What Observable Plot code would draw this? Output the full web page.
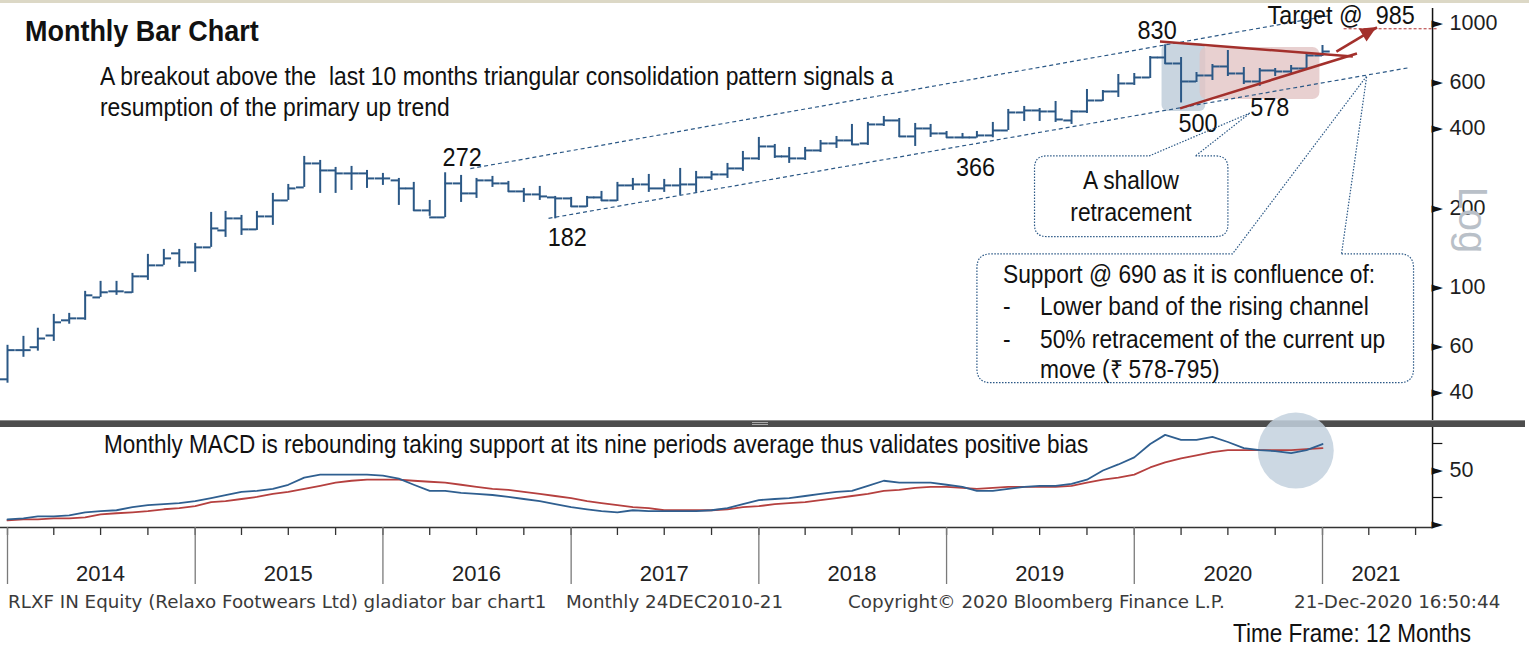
<!DOCTYPE html>
<html><head><meta charset="utf-8">
<script src="https://cdn.jsdelivr.net/npm/d3@7"></script>
<script src="https://cdn.jsdelivr.net/npm/@observablehq/plot@0.6"></script>
<style>
html,body{margin:0;padding:0;background:#fff;overflow:hidden;}
#wrap{position:relative;width:1529px;height:648px;overflow:hidden;background:#fff;}
.t{position:absolute;white-space:pre;line-height:1;}
.nar{font-family:"Liberation Sans",Arial,sans-serif;color:#111;}
.foot{font-family:"DejaVu Sans",Verdana,sans-serif;color:#3a3a3a;}
.abs{position:absolute;left:0;}
svg text{white-space:pre;}
</style></head><body><div id="wrap"></div>
<script>
// ---------------- DATA ----------------
// Monthly bars (Dec 2013 ... Dec 2020), each placed at its month-end
const barDates = d3.utcMonth.range(new Date(Date.UTC(2014,0,1)), new Date(Date.UTC(2021,1,1)));
const barOpen = [44.9,57.9,59.4,65.8,75.1,76.4,91.7,96.7,95.9,110.2,
 121.3,134.7,124.5,141.9,164.5,182.7,166.0,185.9,213.7,239.4,
 295.1,277.6,270.5,270.5,258.9,254.5,237.3,195.9,184.3,247.9,
 227.2,254.5,247.9,231.2,225.2,219.4,217.5,202.8,219.4,213.7,
 243.6,245.7,237.3,243.6,245.7,261.2,268.1,282.5,308.3,342.2,
 313.7,308.3,330.5,351.3,360.6,351.3,414.6,429.3,373.4,400.3,
 383.3,370.2,370.2,376.7,393.4,460.3,468.4,464.3,429.3,464.3,
 511.0,552.7,592.7,624.5,743.5,705.6,603.1,635.5,687.4,646.7,
 603.1,663.8,658.0,675.5,756.6];
const barHigh = [60.4,65.3,70.1,79.1,79.8,96.7,105.5,105.5,113.1,133.5,
 139.4,139.4,146.9,192.5,194.2,187.5,194.2,227.2,245.7,313.7,
 302.9,285.0,287.5,277.6,270.5,258.9,250.1,213.7,272,265.8,
 258.9,263.5,252.3,237.3,241.5,221.3,219.4,221.3,231.2,250.1,
 258.9,268.1,256.7,282.5,275.2,275.2,295.1,327.6,370.2,348.2,
 339.2,339.2,360.6,373.4,414.6,421.9,444.5,436.8,418.2,414.6,
 390.0,383.3,390.0,421.9,472.5,485.1,476.6,506.6,468.4,562.5,
 557.6,641.1,646.7,750.0,830,743.5,652.3,699.5,790.3,681.4,
 675.5,675.5,693.4,769.9,825.5];
const barLow = [43.4,54.4,57.4,62.5,72.6,75.1,91.7,93.4,95.0,106.4,
 121.3,119.2,114.1,141.9,154.8,157.5,164.5,171.9,213.7,239.4,
 227.2,227.2,233.2,237.3,243.6,204.6,194.2,186,184,210.0,
 217.5,239.4,229.2,210.0,213.7,182,201.1,201.1,211.8,211.8,
 233.2,229.2,229.2,223.3,229.2,254.5,258.9,275.2,302.9,308.3,
 295.1,302.9,324.8,336.3,345.2,345.2,407.4,370.2,342.2,370.2,
 367,366,368,369,393.4,425.6,425.6,421.9,414.6,456.3,
 506.6,524.6,582.5,619.1,699.5,500,597.9,608.4,630.0,587.5,
 578,630.0,646.7,663.8,750.0];
const barClose = [57.9,57.9,64.1,73.8,76.4,93.4,95.9,96.7,110.2,121.3,
 128.9,124.5,141.9,167.4,182.7,166.0,185.9,213.7,237.3,295.1,
 277.6,270.5,270.5,258.9,258.9,237.3,195.9,184.3,247.9,227.2,
 254.5,247.9,231.2,225.2,221.3,217.5,202.8,219.4,213.7,243.6,
 245.7,237.3,243.6,245.7,261.2,268.1,282.5,308.3,342.2,313.7,
 308.3,330.5,351.3,360.6,348.2,414.6,429.3,373.4,400.3,383.3,
 370.2,370.2,376.7,393.4,460.3,468.4,464.3,433.0,464.3,511.0,
 552.7,592.7,624.5,743.5,705.6,603.1,635.5,687.4,646.7,603.1,
 663.8,658.0,675.5,756.6,783.3];
// Monthly MACD and its 9-period signal
const macdLine = [4.7,5.7,7.5,7.5,8.5,11.3,12.3,13.2,16.0,17.9,
 18.9,19.8,21.7,24.5,27.3,30.2,31.1,33.0,36.8,43.4,
 46.2,46.2,46.2,46.2,45.3,42.4,36.8,31.1,31.1,29.2,
 28.3,27.3,25.5,23.6,21.7,18.9,16.0,14.1,12.3,11.3,
 13.2,12.3,12.3,12.3,12.3,13.2,15.1,18.9,22.6,23.6,
 24.5,26.4,28.3,30.2,31.1,35.8,40.5,38.7,38.7,38.7,
 36.8,34.9,31.1,31.1,33.0,34.9,35.8,35.8,37.7,41.5,
 50.0,55.6,62.2,74.5,83.0,78.3,78.3,81.1,76.4,70.7,
 68.8,67.9,66.0,68.8,74.5];
const signalLine = [3.8,4.7,4.7,5.7,5.7,6.6,9.4,10.4,11.3,12.3,
 14.1,15.1,17.0,20.7,21.7,23.6,25.5,28.3,30.2,33.0,
 35.8,38.7,40.5,41.5,41.5,41.5,40.5,39.6,38.7,36.8,
 34.9,33.0,32.1,30.2,28.3,26.4,24.5,21.7,19.8,17.9,
 16.0,15.1,13.2,13.2,13.2,13.2,14.1,16.0,17.0,18.9,
 19.8,20.7,22.6,24.5,26.4,28.3,31.1,32.1,33.9,34.9,
 34.9,33.9,33.0,33.9,34.9,34.9,34.9,34.9,35.8,38.7,
 41.5,43.4,46.2,52.8,57.5,61.3,64.1,67.0,68.8,68.8,
 68.8,68.8,68.8,69.8,70.7];
const priceTicks = [40,60,100,200,400,600,1000];
const macdLabelTicks = [0,50];
const macdMinorTicks = [25,75];
const yearLabels = ["2014","2015","2016","2017","2018","2019","2020","2021"];

// ---------------- helpers ----------------
const D = s => new Date(s + "T00:00:00Z");
const axisStart = D("2013-12-18"), axisEnd = D("2021-08-03");
const bars = barDates.map((date,i)=>({date, open:barOpen[i], high:barHigh[i], low:barLow[i], close:barClose[i]}));
const macd = barDates.map((date,i)=>({date, macd:macdLine[i], signal:signalLine[i]}));

// annotations (data coordinates)
const channelLines = [
  {x1:D("2016-06-19"), y1:282, x2:D("2021-01-16"), y2:1072},
  {x1:D("2016-11-18"), y1:182.7, x2:D("2021-06-20"), y2:681}
];
const triangleLines = [
  {x1:D("2020-02-20"), y1:855, x2:D("2021-03-01"), y2:750},
  {x1:D("2020-03-30"), y1:477, x2:D("2021-03-09"), y2:770}
];
const targetArrow = {x1:D("2021-01-28"), y1:783, x2:D("2021-04-17"), y2:966};
const targetLevel = {x1:D("2021-02-12"), x2:D("2021-08-12"), y:955};
const blueShade = [{x1:D("2020-02-24"), x2:D("2020-05-19"), y1:464, y2:840}];
const pinkShade = [{x1:D("2020-05-08"), x2:D("2020-12-27"), y1:515, y2:811}];
const pointLabels = [
  {x:barDates[28], y:barHigh[28], text:"272", dx:17, dy:-15},
  {x:barDates[35], y:barLow[35], text:"182", dx:12, dy:19},
  {x:barDates[61], y:barLow[61], text:"366", dx:13, dy:29},
  {x:barDates[74], y:barHigh[74], text:"830", dx:-8, dy:-14},
  {x:barDates[75], y:barLow[75], text:"500", dx:17, dy:21},
  {x:barDates[80], y:barLow[80], text:"578", dx:10, dy:21},
  {x:targetLevel.x1, y:targetLevel.y, text:"Target @  985", dx:-3, dy:-13}
];
const callouts = [
  {L:D("2019-06-22"), R:D("2020-07-02"), T:313.7, B:155.3, n1:D("2020-01-31"), n2:D("2020-04-30"), tx:D("2020-08-14"), ty:456, r:12},
  {L:D("2019-03-02"), R:D("2021-06-28"), T:133.5, B:43.4, n1:D("2020-07-11"), n2:D("2021-02-08"), tx:D("2021-03-29"), ty:630, r:14}
];
const macdHighlight = [{date:D("2020-11-10"), v:68.5}];

const BAR = "#2b5886";
const NARROW = "Liberation Sans, sans-serif";          // compressed horizontally after render
const AXISF = "'Liberation Sans',Arial,sans-serif";
const XS = {type:"utc", domain:[D("2014-01-01"), D("2021-01-01")], range:[7,1322], axis:null};

// ---------------- PRICE PANEL ----------------
const price = Plot.plot({
  width:1529, height:420, marginTop:8, marginBottom:0, marginLeft:0, marginRight:0,
  style:{background:"transparent", overflow:"visible"},
  x: XS,
  y: {type:"log", domain:[100,1000], range:[287,23], axis:null},
  marks:[
    Plot.rect(blueShade, {x1:"x1", x2:"x2", y1:"y1", y2:"y2", fill:"#c9d5e0", rx:6}),
    Plot.rect(pinkShade, {x1:"x1", x2:"x2", y1:"y1", y2:"y2", fill:"#e2c4c4", fillOpacity:0.8, rx:7}),
    Plot.link(channelLines, {x1:"x1", y1:"y1", x2:"x2", y2:"y2", stroke:BAR, strokeWidth:1.2, strokeDasharray:"4,3"}),
    Plot.ruleX(bars, {x:"date", y1:"low", y2:"high", stroke:BAR, strokeWidth:2}),
    Plot.ruleY(bars, {y:"open", x1:d=>d3.utcDay.offset(d.date,-15), x2:"date", stroke:BAR, strokeWidth:2}),
    Plot.ruleY(bars, {y:"close", x1:"date", x2:d=>d3.utcDay.offset(d.date,15), stroke:BAR, strokeWidth:2}),
    Plot.link(triangleLines, {x1:"x1", y1:"y1", x2:"x2", y2:"y2", stroke:"#a3302c", strokeWidth:2.6}),
    Plot.link([targetArrow], {x1:"x1", y1:"y1", x2:"x2", y2:"y2", stroke:"#a3302c", strokeWidth:2.6}),
    Plot.ruleY([targetLevel], {y:"y", x1:"x1", x2:"x2", stroke:"#b03030", strokeWidth:1, strokeDasharray:"3,2"}),
    ...pointLabels.map(d => Plot.text([d], {x:"x", y:"y", text:"text", dx:d.dx, dy:d.dy, fontSize:26, fontFamily:NARROW, fill:"#111"})),
    Plot.ruleX([axisEnd], {x:d=>d, stroke:"#111", strokeWidth:1.5}),
    Plot.text(priceTicks, {x:()=>axisEnd, y:d=>d, text:()=>"►", textAnchor:"start", dx:-1, fontSize:15, fontFamily:"DejaVu Sans", fill:"#111"}),
    Plot.text(priceTicks, {x:()=>axisEnd, y:d=>d, text:d=>String(d), textAnchor:"start", dx:17, fontSize:21.5, fontFamily:AXISF, fill:"#1e1e1e"})
  ]
});

// overlay: callouts and arrow head through the plot's own scales
(function(){
  const sx = price.scale("x"), sy = price.scale("y");
  const X = d3.scaleUtc(sx.domain, sx.range), Y = d3.scaleLog(sy.domain, sy.range);
  const svg = d3.select(price);
  for (const c of callouts) {
    const L=X(c.L), R=X(c.R), T=Y(c.T), B=Y(c.B), n1=X(c.n1), n2=X(c.n2), tx=X(c.tx), ty=Y(c.ty), r=c.r;
    const p = `M${n2},${T}L${R-r},${T}Q${R},${T} ${R},${T+r}L${R},${B-r}Q${R},${B} ${R-r},${B}L${L+r},${B}Q${L},${B} ${L},${B-r}L${L},${T+r}Q${L},${T} ${L+r},${T}L${n1},${T}L${tx},${ty}Z`;
    svg.append("path").attr("d", p).attr("fill","none").attr("stroke", BAR).attr("stroke-width",1.2).attr("stroke-dasharray","1.5,1.5");
  }
  const x1=X(targetArrow.x1), y1=Y(targetArrow.y1), x2=X(targetArrow.x2), y2=Y(targetArrow.y2);
  const a = Math.atan2(y2-y1, x2-x1), len=16, hw=7.5;
  const bx = x2 - len*Math.cos(a), by = y2 - len*Math.sin(a);
  const px = -Math.sin(a)*hw, py = Math.cos(a)*hw;
  svg.append("path").attr("d", `M${x2},${y2}L${bx+px},${by+py}L${bx-px},${by-py}Z`).attr("fill","#a3302c");
})();

// ---------------- MACD PANEL ----------------
const macdPlot = Plot.plot({
  width:1529, height:107, marginTop:7, marginBottom:0, marginLeft:0, marginRight:0,
  style:{background:"transparent", overflow:"visible"},
  x: XS,
  y: {domain:[0,50], range:[104,50], axis:null},
  marks:[
    Plot.dot(macdHighlight, {x:"date", y:"v", r:38, fill:"#c3d1de", fillOpacity:0.85}),
    Plot.line(macd, {x:"date", y:"signal", stroke:"#b5403f", strokeWidth:1.8}),
    Plot.line(macd, {x:"date", y:"macd", stroke:"#2f5f90", strokeWidth:1.8}),
    Plot.ruleX([axisEnd], {x:d=>d, stroke:"#111", strokeWidth:1.5}),
    Plot.ruleY(macdMinorTicks, {y:d=>d, x1:()=>axisEnd, x2:()=>d3.utcDay.offset(axisEnd,20), stroke:"#111", strokeWidth:1.2}),
    Plot.text(macdLabelTicks, {x:()=>axisEnd, y:d=>d, text:()=>"►", textAnchor:"start", dx:-1, fontSize:15, fontFamily:"DejaVu Sans", fill:"#111"}),
    Plot.text([50], {x:()=>axisEnd, y:d=>d, text:d=>String(d), textAnchor:"start", dx:17, fontSize:21.5, fontFamily:AXISF, fill:"#1e1e1e"})
  ]
});

// ---------------- TIME AXIS ----------------
const quarterTicks = d3.utcMonth.every(3).range(D("2014-01-01"), D("2021-08-01"));
const yearStarts = yearLabels.map(y => D(y + "-01-01"));
const yearMids = yearLabels.map(y => y === "2021" ? D("2021-04-15") : D(y + "-07-01"));
const axisPlot = Plot.plot({
  width:1529, height:64, marginTop:0, marginBottom:0, marginLeft:0, marginRight:0,
  style:{background:"transparent", overflow:"visible"},
  x: XS,
  y: {domain:[0,60], range:[2,62], axis:null},
  marks:[
    Plot.ruleY([0], {y:d=>d, x1:()=>axisStart, x2:()=>axisEnd, stroke:"#333", strokeWidth:1.6}),
    Plot.ruleX(quarterTicks, {x:d=>d, y1:0, y2:8, stroke:"#333", strokeWidth:1.3}),
    Plot.ruleX(yearStarts, {x:d=>d, y1:0, y2:57, stroke:"#7a7a7a", strokeWidth:1.3}),
    Plot.text(yearLabels, {x:(d,i)=>yearMids[i], y:()=>46, text:d=>d, fontSize:22, fontFamily:AXISF, fill:"#222"})
  ]
});

// ---------------- ASSEMBLE ----------------
const wrap = document.getElementById("wrap");
function div(style){ const e=document.createElement("div"); e.style.cssText=style; wrap.appendChild(e); return e; }
function text(txt, cls, left, baseline, fs, opt={}){
  const e=document.createElement("div"); e.className="t "+cls; e.textContent=txt;
  const sx = opt.sx || 1, mid = opt.mid;
  e.style.cssText += `left:${left}px;top:${(baseline-0.8465*fs).toFixed(1)}px;font-size:${fs}px;` +
    (opt.bold ? "font-weight:bold;" : "") +
    (mid ? `transform-origin:center;transform:translateX(-50%) scaleX(${sx});` : `transform-origin:left center;transform:scaleX(${sx});`);
  wrap.appendChild(e); return e;
}
div("position:absolute;left:0;top:0;width:1529px;height:3px;background:#dcd8c6;");
div("position:absolute;left:0;top:420px;width:1525px;height:7px;background:#4d4d4d;border-top:1px solid #8a8a8a;box-sizing:border-box;");
div("position:absolute;left:752px;top:422px;width:16px;height:3px;border-top:1px solid #aaa;border-bottom:1px solid #aaa;box-sizing:border-box;");
function place(svg, top){ svg.classList.add("abs"); svg.style.top = top+"px"; wrap.appendChild(svg); }
place(price, 0);
place(macdPlot, 420);
place(axisPlot, 525);
// compress the narrow-style labels horizontally (condensed look)
d3.select(price).selectAll("text").each(function(){
  const g = this.closest("[font-family]");
  if (g && g.getAttribute("font-family") === NARROW) {
    const w = this.getComputedTextLength();
    this.setAttribute("textLength", (w*0.9).toFixed(1));
    this.setAttribute("lengthAdjust", "spacingAndGlyphs");
  }
});

const N = 0.91;
text("Monthly Bar Chart","nar",25,41,29,{bold:true, sx:0.93});
text("A breakout above the  last 10 months triangular consolidation pattern signals a","nar",100,85,25,{sx:0.915});
text("resumption of the primary up trend","nar",100,116.5,25,{sx:0.915});
text("Monthly MACD is rebounding taking support at its nine periods average thus validates positive bias","nar",104,453.5,25,{sx:0.9});
text("A shallow","nar",1131,189.5,25,{sx:N, mid:true});
text("retracement","nar",1131,221.5,25,{sx:N, mid:true});
text("Support @ 690 as it is confluence of:","nar",1003,283,25,{sx:N});
text("-","nar",1003,315,25,{sx:N});
text("Lower band of the rising channel","nar",1040,315,25,{sx:N});
text("-","nar",1003,348,25,{sx:N});
text("50% retracement of the current up","nar",1040,348,25,{sx:N});
text("move (₹ 578-795)","nar",1040,378,25,{sx:N});
text("Time Frame: 12 Months","nar",1233,642,25,{sx:0.9});
text("RLXF IN Equity (Relaxo Footwears Ltd) gladiator bar chart1","foot",8,608,18.3);
text("Monthly 24DEC2010-21","foot",566,608,18.3);
text("Copyright© 2020 Bloomberg Finance L.P.","foot",848,608,18.3);
text("21-Dec-2020 16:50:44","foot",1294,608,18.3);
const lg = document.createElement("div");
lg.className="t"; lg.textContent="Log";
lg.style.cssText += "left:1473px;top:220px;font-size:40px;font-family:'Liberation Sans',Arial,sans-serif;color:#b9c0c8;transform:translate(-50%,-50%) rotate(90deg);";
wrap.appendChild(lg);
</script></body></html>
